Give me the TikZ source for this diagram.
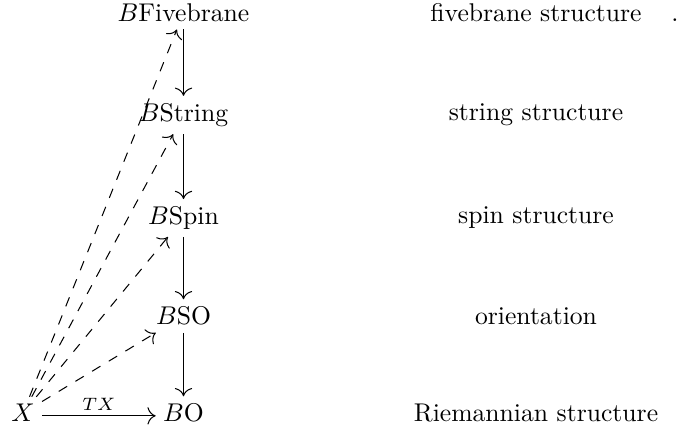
\documentclass[tikz,border=0pt]{standalone}
\usetikzlibrary{arrows.meta}
\begin{document}
\begin{tikzpicture}[x=0.39pt, y=-0.39pt,
    obj/.style={inner sep=2.7pt},
    map/.style={-{Computer Modern Rightarrow[scale=1.3]}, thin},
    lift/.style={map, dash pattern=on 3.8pt off 3.8pt}]
    \useasboundingbox (0,0) rectangle (683,432);

    % Classifying spaces
    \node[obj] (bfive) at (183.5,13) {$B$Fivebrane};
    \node[obj] (bstring) at (183.5,115) {$B$String};
    \node[obj] (bspin) at (183.5,218) {$B$Spin};
    \node[obj] (bso) at (183.5,316) {$B$SO};
    \node[obj] (bo) at (183.5,413) {$B$O};
    \node[obj] (x) at (23,413) {$X$};

    % Structures
    \node (fivestr) at (536,13) {fivebrane structure};
    \node[anchor=base, inner sep=0pt] (dot) at (fivestr.base -| 675,0) {.};
    \node (stringstr) at (536,115) {string structure};
    \node (spinstr) at (536,218) {spin structure};
    \node (orient) at (536,316) {orientation};
    \node (riem) at (536,413) {Riemannian structure};

    % Tower
    \draw[map] (bfive) -- (bstring);
    \draw[map] (bstring) -- (bspin);
    \draw[map] (bspin) -- (bso);
    \draw[map] (bso) -- (bo);

    % Tangent bundle and lifts
    \draw[map] ([yshift=-1.1pt]x.east) -- node[above, inner sep=2pt] {$\scriptstyle TX$} ([yshift=-1.1pt]bo.west);
    \draw[lift] (x) -- (bso);
    \draw[lift] (x) -- (bspin);
    \draw[lift] (x) -- (bstring);
    \draw[lift] (x) -- (bfive);
\end{tikzpicture}
\end{document}
